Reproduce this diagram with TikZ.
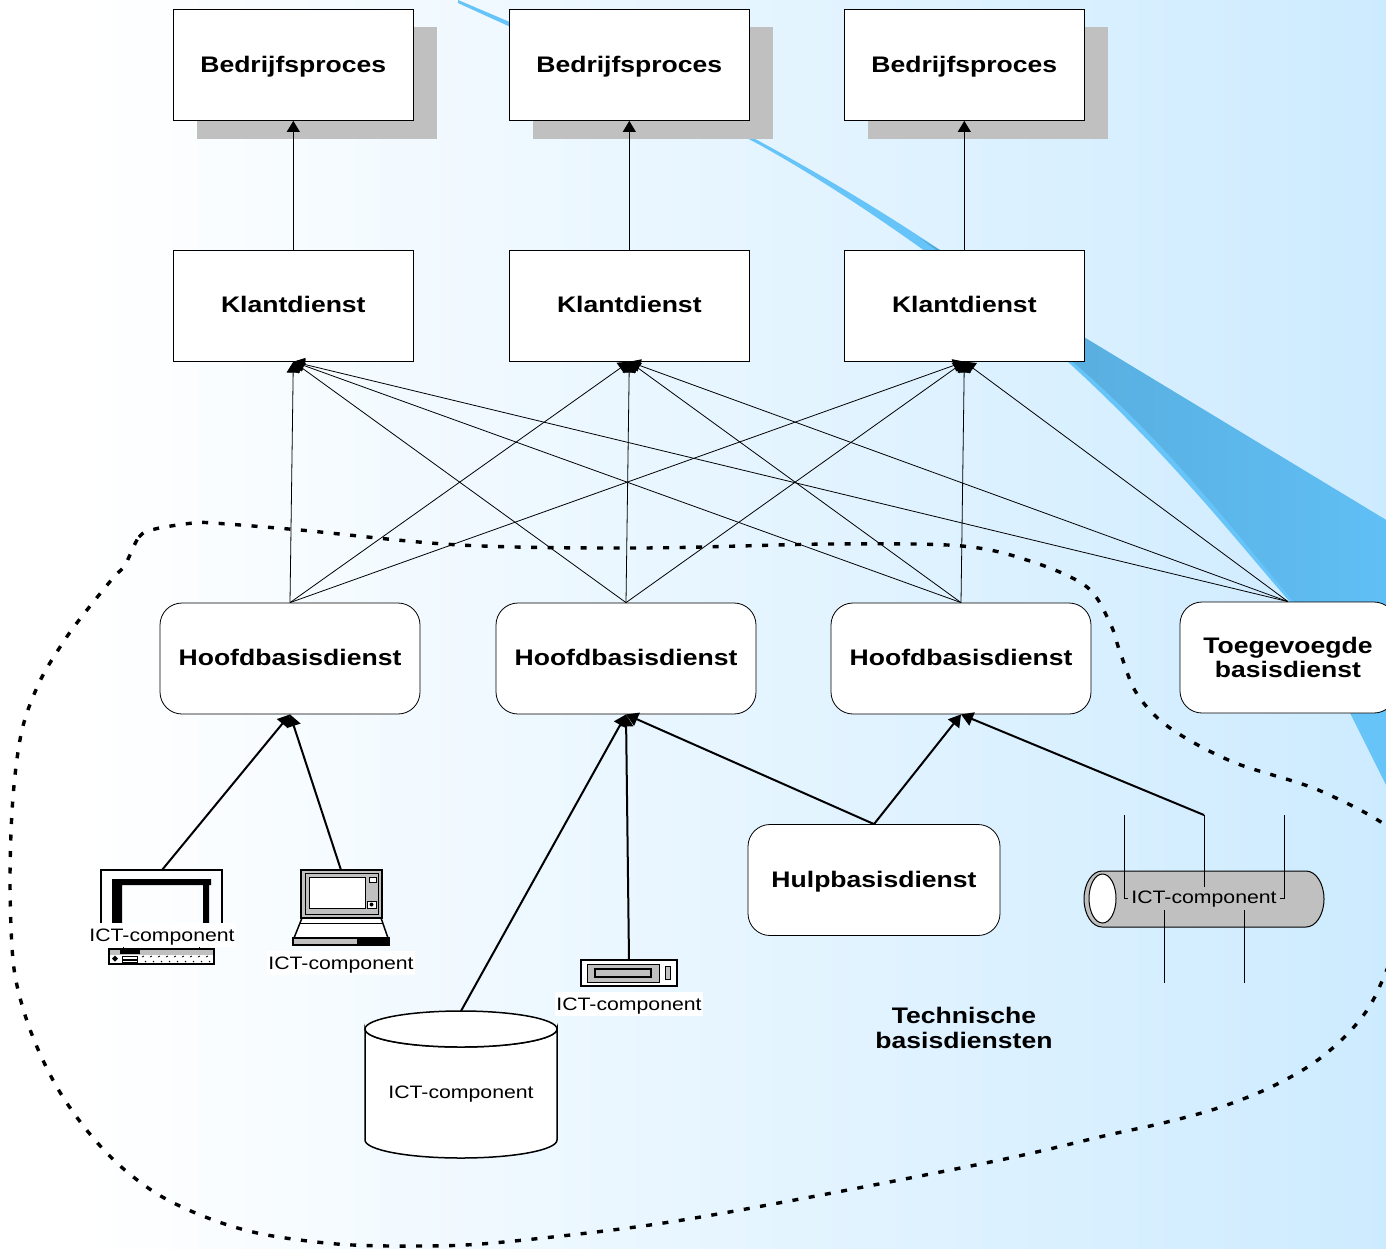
\documentclass[tikz,border=0pt]{standalone}
\usepackage{fontspec}
\setmainfont[FakeStretch=1.18]{Liberation Sans}
\usetikzlibrary{arrows.meta}
\usetikzlibrary{shapes.geometric}

\definecolor{achtergrond}{HTML}{CDEBFF}
\definecolor{swooshlicht}{HTML}{66C4F8}
\definecolor{swooshdonker}{HTML}{55A6D4}
\definecolor{swooshrand}{HTML}{60BFF5}
\definecolor{schaduw}{HTML}{C0C0C0}

\tikzset{
    dienst/.style={rectangle,draw,fill=white,line width=0.8pt,inner sep=0pt,align=center,
        minimum width=240pt,minimum height=111pt,font=\fontsize{22.5}{24.5}\selectfont\bfseries},
    basis/.style={dienst,rounded corners=22pt,minimum width=260pt},
    enkel/.style={text height=14pt,text depth=0pt},
    icttekst/.style={inner xsep=1.5pt,inner ysep=4pt,text height=14pt,text depth=2pt,font=\fontsize{18}{20}\selectfont},
    ictlabel/.style={icttekst,fill=white},
    pijl/.style={-{Triangle[length=11pt,width=13pt]},line width=0.8pt},
    dikpijl/.style={-{Triangle[length=12pt,width=14pt]},line width=2pt},
    icoon/.style={draw,line width=1.5pt},
    bus/.style={line width=0.8pt}
}

\begin{document}
\begin{tikzpicture}[x=1pt,y=-1pt]
    \useasboundingbox (0,0) rectangle (1386,1248);
    \begin{scope}
    \clip (0,0) rectangle (1386,1248);
    % achtergrond
    \fill[white] (0,0) rectangle (80,1248);
    \shade[left color=white,right color=achtergrond] (80,0) rectangle (1386,1248);
    % swoosh
    \fill[swooshlicht] (458,0) .. controls (600,60) and (760,130) .. (940,250) -- (1386,520) -- (1386,785)
        -- (1350,713) -- (1290,602) .. controls (1240,545) and (1170,455) .. (1067,361)
        .. controls (1000,305) and (880,212) .. (760,145)
        .. controls (660,92) and (560,50) .. (458,3) -- cycle;
    \shade[left color=swooshdonker,right color=swooshrand] (920,238) -- (1386,520) -- (1386,640) -- (1294,602)
        .. controls (1245,545) and (1175,450) .. (1072,361) .. controls (1020,315) and (970,275) .. (920,238) -- cycle;

    % bedrijfsprocessen en klantdiensten
    \foreach \x/\i in {293/1,629/2,964/3} {
        \fill[schaduw] (\x-96,27) rectangle (\x+144,139);
        \node at (\x+0.3,65) [dienst,enkel] (proces\i) {Bedrijfsproces};
        \node at (\x+0.3,305.8) [dienst,enkel] (klant\i) {Klantdienst};
        \draw[pijl] (klant\i.north) -- (proces\i.south);
    }

    % dashed gebied
    \draw[line width=3.4pt,dash pattern=on 6pt off 10.5pt] plot[smooth cycle,tension=0.55] coordinates {
        (125,565) (139,537) (155,529) (193,523) (213,523) (300,530) (460,545) (640,548) (830,544) (962,546)
        (1033,562) (1087,587) (1110,623) (1120,652) (1137,694) (1170,728) (1233,762) (1323,792) (1400,838) (1410,900) (1379,988)
        (1353,1028) (1315,1062) (1269,1088) (1218,1108) (1163,1123) (1108,1135) (1000,1160) (800,1199) (650,1225)
        (493,1243) (413,1246) (337,1244) (262,1234) (208,1218) (159,1195) (118,1164) (85,1128) (58,1089) (37,1047)
        (22,1005) (13,960) (10,880) (13,797) (22,730) (40,681) (64,641) (83,615) (113,578)};

    % hoofdbasisdiensten
    \foreach \x/\i in {290/1,626/2,961/3} {
        \node at (\x,658.5) [basis,enkel] (hoofd\i) {Hoofdbasisdienst};
    }
    \node at (1288,657.5) [basis,minimum width=216pt] (extra) {Toegevoegde\\basisdienst};
    \node at (874,880) [basis,enkel,minimum width=252pt] (hulp) {Hulpbasisdienst};

    \foreach \k in {1,2,3} {
        \foreach \b in {hoofd1,hoofd2,hoofd3,extra} {
            \draw[pijl] (\b.north) -- (klant\k.south);
        }
    }

    % monitor met toetsenbord
    \draw[line width=1.2pt] (101,925) -- (101,870) -- (222,870) -- (222,925);
    \coordinate (monitor) at (162,870);
    \fill (112,925) -- (112,879) -- (211,879) -- (211,885) -- (209,885) -- (209,925) -- (203,925) -- (203,885)
        -- (122,885) -- (122,925) -- cycle;
    \draw[icoon,fill=white] (109,949) rectangle (214,964);
    \fill[schaduw] (110,950) rectangle (213,955);
    \fill (120,950) rectangle (140,954);
    \draw[line width=1pt] (123,946) -- (123,949) (199,946) -- (199,949);
    \fill (112,958.5) -- (115,955.5) -- (118,958.5) -- (115,961.5) -- cycle;
    \draw[line width=0.6pt] (122,956) rectangle (137,959.5) (122,960) rectangle (137,962.5);
    \foreach \x in {142,150,...,206} {
        \draw[line width=0.8pt] (\x,957) -- (\x+2,956) (\x+3,961) -- (\x+4,962);
    }
    \node at (162,935) [ictlabel] (monitortekst) {ICT-component};

    % laptop
    \draw[icoon,fill=schaduw] (301,870) rectangle (382,918);
    \coordinate (laptop) at (341,870);
    \draw[line width=1pt,fill=white] (309,877) rectangle (365,908);
    \draw[line width=0.8pt] (305,873) rectangle (378,914);
    \draw[line width=0.8pt,fill=white] (369,877) rectangle (376,882);
    \draw[line width=1pt,fill=white] (367,901) rectangle (376,908);
    \fill (371.5,904.5) circle (2pt);
    \draw[icoon,fill=white] (302,918) -- (381,918) -- (388,938) -- (294,938) -- cycle;
    \draw[line width=0.8pt] (300,923) -- (383,923);
    \draw[icoon,fill=schaduw] (293,938) rectangle (389,945);
    \fill (357,939) rectangle (388,944);
    \node at (341,963) [ictlabel] (laptoptekst) {ICT-component};

    % database
    \draw[line width=1.5pt,fill=white] (365,1029) arc[start angle=180,end angle=0,x radius=96,y radius=18]
        -- (557,1140) arc[start angle=0,end angle=180,x radius=96,y radius=18] -- cycle;
    \draw[line width=1.5pt,fill=white] (461,1029) ellipse[x radius=96,y radius=18];
    \coordinate (database) at (461,1011);
    \node at (461,1092) [icttekst] (databasetekst) {ICT-component};

    % server
    \draw[line width=2pt,fill=white] (581,960) rectangle (677,986);
    \coordinate (server) at (629,960);
    \draw[line width=1pt,fill=schaduw] (587,964) rectangle (659,982);
    \draw[line width=1.5pt,fill=schaduw] (595,969) rectangle (651,977);
    \draw[line width=0.8pt,fill=schaduw] (665,966) rectangle (670,979);
    \node at (629,1004) [ictlabel] (servertekst) {ICT-component};

    % netwerk
    \draw[line width=1pt,fill=schaduw] (1102,871) -- (1306,871)
        arc[start angle=-90,end angle=90,x radius=18,y radius=28] -- (1102,927)
        arc[start angle=90,end angle=270,x radius=18,y radius=28] -- cycle;
    \draw[line width=1pt,fill=white] (1102.5,898.5) ellipse[x radius=13.5,y radius=24.5];
    \coordinate (netwerk) at (1204,815);
    \draw[bus] (1124,815) -- (1124,898) -- (1128,898);
    \draw[bus] (netwerk) -- (1204,887);
    \draw[bus] (1284,815) -- (1284,898) -- (1280,898);
    \draw[bus] (1164,910) -- (1164,983);
    \draw[bus] (1244,910) -- (1244,983);
    \node at (1204,897) [icttekst] (netwerktekst) {ICT-component};

    % verbindingen onderaan
    \draw[dikpijl] (monitor) -- (hoofd1.south);
    \draw[dikpijl] (laptop) -- (hoofd1.south);
    \draw[dikpijl] (database) -- (hoofd2.south);
    \draw[dikpijl] (server) -- (hoofd2.south);
    \draw[dikpijl] (hulp.north) -- (hoofd2.south);
    \draw[dikpijl] (hulp.north) -- (hoofd3.south);
    \draw[dikpijl] (netwerk) -- (hoofd3.south);

    \node at (964,1027.5) [align=center,font=\fontsize{22.5}{25}\selectfont\bfseries] (techniek) {Technische\\basisdiensten};
    \end{scope}
\end{tikzpicture}
\end{document}
